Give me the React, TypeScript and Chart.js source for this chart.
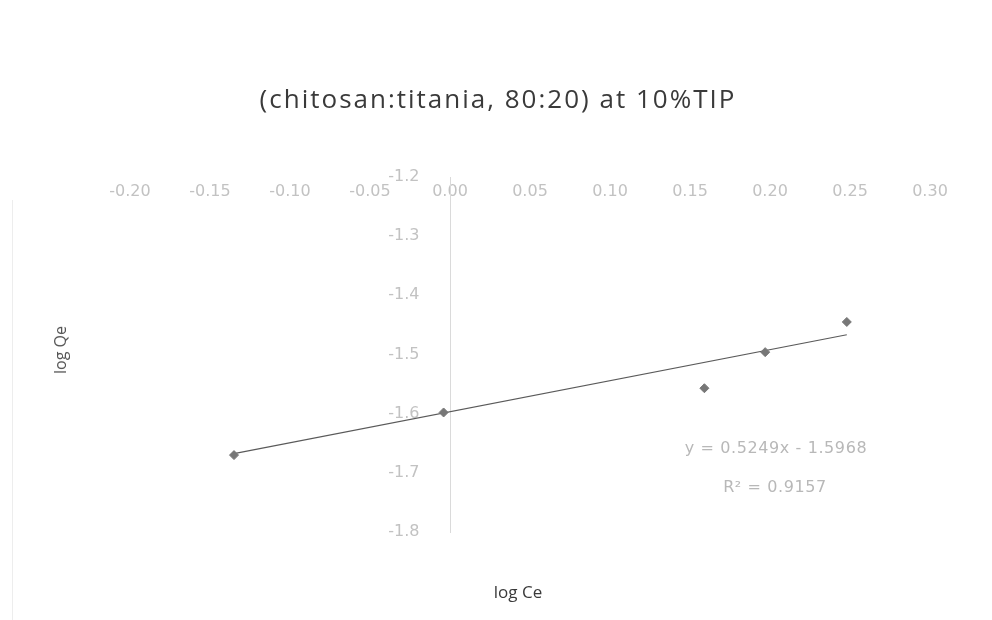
import React, { useEffect, useRef } from "react";
import { Chart, registerables } from "chart.js";

Chart.register(...registerables);

// Measured points (log Ce, log Qe)
const logCe = [-0.135, -0.004, 0.159, 0.197, 0.248];
const logQe = [-1.67, -1.598, -1.557, -1.496, -1.445];

// Linear trendline fitted to the points
const trendSlope = 0.5249;
const trendIntercept = -1.5968;
const rSquared = 0.9157;

// Axis ranges
const xMin = -0.2;
const xMax = 0.3;
const xStep = 0.05;
const yMin = -1.8;
const yMax = -1.2;
const yStep = 0.1;

const chartTitle = "(chitosan:titania, 80:20) at 10%TIP";
const xTitle = "log Ce";
const yTitle = "log Qe";

const tickFont = { family: "'DejaVu Sans', sans-serif", size: 16 };

export default function App() {
  const canvasRef = useRef<HTMLCanvasElement | null>(null);

  useEffect(() => {
    const canvas = canvasRef.current;
    if (!canvas) return;

    const points = logCe.map((x, i) => ({ x, y: logQe[i] }));
    const xFirst = Math.min(...logCe);
    const xLast = Math.max(...logCe);
    const trend = [xFirst, xLast].map((x) => ({ x, y: trendSlope * x + trendIntercept }));

    const chart = new Chart(canvas, {
      type: "scatter",
      data: {
        datasets: [
          {
            label: "log Qe",
            data: points,
            pointStyle: "rectRot",
            pointRadius: 4.5,
            pointBackgroundColor: "#777777",
            pointBorderColor: "#777777",
            order: 1,
          },
          {
            label: "Linear (log Qe)",
            type: "line",
            data: trend,
            borderColor: "#5a5a5a",
            borderWidth: 1.2,
            pointRadius: 0,
            fill: false,
            order: 2,
          },
        ],
      },
      options: {
        responsive: false,
        animation: false,
        devicePixelRatio: 1,
        layout: { padding: { left: 130, right: 62, top: 177, bottom: 88 } },
        plugins: {
          legend: { display: false },
          tooltip: { enabled: false },
          title: { display: false },
        },
        scales: {
          x: {
            type: "linear",
            min: xMin,
            max: xMax,
            position: { y: yMax },
            grid: { display: false, drawTicks: false },
            border: { display: false },
            ticks: {
              stepSize: xStep,
              padding: 5,
              color: "#c2c2c2",
              font: tickFont,
              maxRotation: 0,
              autoSkip: false,
              callback: (v: number | string) => Number(v).toFixed(2),
            },
          },
          y: {
            type: "linear",
            min: yMin,
            max: yMax,
            position: { x: 0 },
            grid: { display: false, drawTicks: false },
            border: { display: true, color: "#dadada", width: 1, dash: [2, 2] },
            ticks: {
              stepSize: yStep,
              color: "#c2c2c2",
              font: tickFont,
              autoSkip: false,
              callback: (v: number | string) => Number(v).toFixed(1) + "      ",
            },
          },
        },
      },
    });

    return () => chart.destroy();
  }, []);

  return (
    <div
      style={{
        position: "absolute",
        left: 0,
        top: 0,
        width: 992,
        height: 620,
        background: "#ffffff",
        overflow: "hidden",
      }}
    >
      <canvas ref={canvasRef} width={992} height={620} style={{ display: "block" }} />
      <div
        style={{
          position: "absolute",
          left: 12,
          top: 200,
          width: 1,
          height: 420,
          background: "#ededed",
        }}
      />
      <div
        style={{
          position: "absolute",
          left: 0,
          width: 992,
          top: 80,
          textAlign: "center",
          paddingLeft: 2,
          font: "26px 'Open Sans', sans-serif",
          letterSpacing: 2,
          color: "#3a3a3a",
          whiteSpace: "nowrap",
        }}
      >
        {chartTitle}
      </div>
      <div
        style={{
          position: "absolute",
          left: 60,
          top: 350,
          transform: "translate(-50%, -50%) rotate(-90deg)",
          font: "16px 'Open Sans', sans-serif",
          color: "#555555",
          whiteSpace: "nowrap",
        }}
      >
        {yTitle}
      </div>
      <div
        style={{
          position: "absolute",
          left: 518,
          top: 591,
          transform: "translate(-50%, -50%)",
          font: "17px 'Open Sans', sans-serif",
          color: "#3a3a3a",
          whiteSpace: "nowrap",
        }}
      >
        {xTitle}
      </div>
      <div
        style={{
          position: "absolute",
          left: 776,
          top: 447,
          transform: "translate(-50%, -50%)",
          font: "16px 'DejaVu Sans', sans-serif",
          letterSpacing: 0.6,
          color: "#b8b8b8",
          whiteSpace: "nowrap",
          textAlign: "center",
        }}
      >
        {`y = ${trendSlope}x - ${Math.abs(trendIntercept)}`}
      </div>
      <div
        style={{
          position: "absolute",
          left: 775,
          top: 486,
          transform: "translate(-50%, -50%)",
          font: "16px 'DejaVu Sans', sans-serif",
          letterSpacing: 0.6,
          color: "#b8b8b8",
          whiteSpace: "nowrap",
        }}
      >
        R² = {rSquared}
      </div>
    </div>
  );
}
